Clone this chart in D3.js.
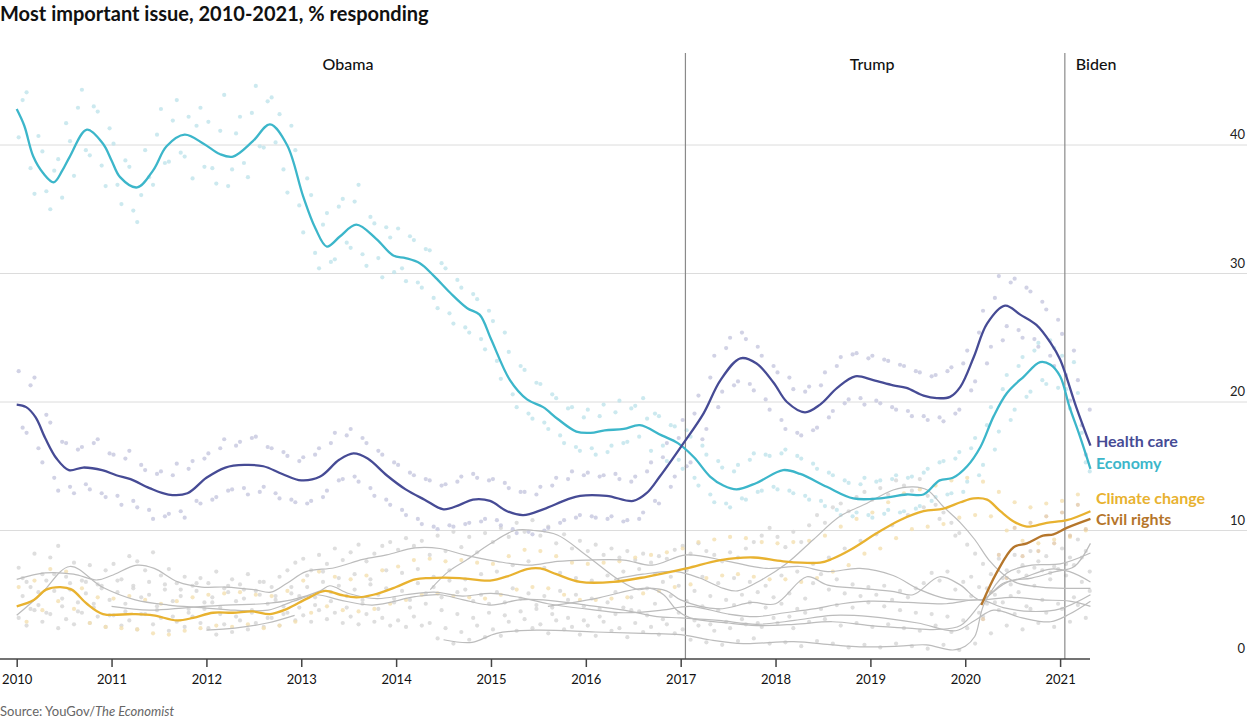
<!DOCTYPE html>
<html>
<head>
<meta charset="utf-8">
<title>Most important issue</title>
<script src="https://cdnjs.cloudflare.com/ajax/libs/d3/7.8.5/d3.min.js"></script>
<style>
  body { margin: 0; background: #fff; }
  text { font-family: Lato, "Noto Sans", sans-serif; }
</style>
</head>
<body>
<div id="chart"></div>
<script>
// smoothed series, [decimal year, % responding]
var economy = [[2010.0,42.8],[2010.08,41.5],[2010.175,39.1],[2010.28,37.8],[2010.39,37.1],[2010.48,38.0],[2010.56,39.1],[2010.74,41.2],[2010.91,40.1],[2011.0,38.8],[2011.09,37.5],[2011.27,36.7],[2011.44,38.05],[2011.58,39.9],[2011.77,40.8],[2011.97,40.1],[2012.14,39.3],[2012.28,39.1],[2012.49,40.3],[2012.67,41.6],[2012.85,40.0],[2013.02,36.0],[2013.15,33.5],[2013.27,32.1],[2013.41,32.9],[2013.58,33.8],[2013.79,32.7],[2013.97,31.4],[2014.1,31.2],[2014.25,30.8],[2014.4,29.8],[2014.57,28.5],[2014.75,27.3],[2014.88,26.8],[2015.0,24.9],[2015.2,21.7],[2015.38,20.2],[2015.55,19.6],[2015.7,18.7],[2015.9,17.7],[2016.05,17.6],[2016.2,17.8],[2016.4,17.9],[2016.57,18.2],[2016.8,17.4],[2016.97,16.8],[2017.14,15.7],[2017.31,14.2],[2017.45,13.5],[2017.59,13.2],[2017.8,13.7],[2018.08,14.7],[2018.26,14.4],[2018.54,13.4],[2018.82,12.5],[2019.1,12.5],[2019.38,12.8],[2019.56,12.8],[2019.73,13.9],[2019.87,14.1],[2020.02,15.0],[2020.16,16.5],[2020.3,18.9],[2020.44,20.7],[2020.62,22.0],[2020.79,23.1],[2020.9,22.9],[2021.0,22.0],[2021.1,19.6],[2021.21,17.3],[2021.32,14.8]];

var healthCare = [[2010.0,19.8],[2010.1,19.6],[2010.2,18.8],[2010.3,17.2],[2010.42,15.6],[2010.55,14.7],[2010.7,14.9],[2010.9,14.7],[2011.05,14.3],[2011.2,14.0],[2011.4,13.3],[2011.6,12.8],[2011.8,12.9],[2012.0,14.1],[2012.2,14.9],[2012.4,15.1],[2012.6,15.0],[2012.8,14.4],[2013.0,13.9],[2013.2,14.2],[2013.4,15.5],[2013.55,16.0],[2013.7,15.6],[2013.9,14.3],[2014.1,13.2],[2014.3,12.4],[2014.5,11.65],[2014.67,12.0],[2014.81,12.4],[2014.99,12.3],[2015.17,11.5],[2015.34,11.2],[2015.55,11.65],[2015.8,12.4],[2015.94,12.7],[2016.22,12.7],[2016.5,12.3],[2016.64,12.9],[2016.78,14.2],[2017.03,16.8],[2017.24,19.1],[2017.42,21.7],[2017.63,23.4],[2017.8,23.0],[2017.98,21.5],[2018.12,20.0],[2018.31,19.2],[2018.47,19.8],[2018.65,21.1],[2018.84,22.0],[2019.03,21.7],[2019.24,21.3],[2019.38,21.1],[2019.56,20.5],[2019.7,20.3],[2019.84,20.4],[2019.95,21.2],[2020.09,23.5],[2020.23,26.1],[2020.42,27.5],[2020.58,26.8],[2020.75,26.0],[2020.9,24.6],[2021.0,23.3],[2021.17,19.6],[2021.32,16.6]];

var climateChange = [[2010.0,4.1],[2010.18,4.6],[2010.31,5.4],[2010.46,5.6],[2010.58,5.4],[2010.74,4.3],[2010.91,3.5],[2011.23,3.5],[2011.44,3.4],[2011.69,3.0],[2011.86,3.2],[2012.07,3.6],[2012.28,3.6],[2012.49,3.7],[2012.67,3.5],[2012.85,3.9],[2013.06,4.7],[2013.25,5.3],[2013.41,5.0],[2013.58,4.8],[2013.76,5.0],[2014.0,5.6],[2014.2,6.2],[2014.35,6.3],[2014.67,6.3],[2014.99,6.1],[2015.2,6.5],[2015.38,7.0],[2015.52,7.05],[2015.69,6.6],[2015.94,6.0],[2016.29,6.0],[2016.64,6.4],[2017.06,7.05],[2017.42,7.7],[2017.77,7.9],[2018.08,7.6],[2018.47,7.5],[2018.6,7.8],[2018.79,8.5],[2019.07,9.8],[2019.31,10.8],[2019.56,11.5],[2019.77,11.7],[2019.95,12.2],[2020.09,12.5],[2020.23,12.4],[2020.37,11.5],[2020.51,10.7],[2020.65,10.3],[2020.86,10.6],[2021.07,10.8],[2021.32,11.5]];

var civilRights = [[2020.17,4.2],[2020.33,6.7],[2020.51,8.7],[2020.65,9.0],[2020.82,9.6],[2020.93,9.7],[2021.07,10.2],[2021.32,10.9]];

// the other issues, drawn in grey
var otherIssues = [
  [[2010.0,6.2],[2010.3,6.7],[2010.6,6.6],[2010.85,6.15],[2011.0,6.5],[2011.27,7.3],[2011.45,7.05],[2011.7,6.0],[2011.95,5.6],[2012.2,5.6],[2012.5,5.4],[2012.68,5.2],[2012.85,5.9],[2013.05,6.8],[2013.35,7.1],[2013.65,7.75],[2013.9,8.1],[2014.2,8.65],[2014.46,8.6],[2014.72,8.1],[2015.06,7.6],[2015.4,7.3],[2015.7,7.6],[2016.0,7.7],[2016.4,7.7],[2016.7,7.3],[2017.06,8.1],[2017.5,7.6],[2017.9,7.05],[2018.26,7.2],[2018.55,6.8],[2018.89,7.05],[2019.24,6.5],[2019.52,5.4],[2019.8,4.7],[2020.16,4.6],[2020.5,4.8],[2020.8,4.6],[2021.1,4.5],[2021.32,4.1]],
  [[2010.0,3.4],[2010.25,5.0],[2010.56,7.2],[2010.9,5.6],[2011.25,4.6],[2011.6,4.2],[2011.95,4.0],[2012.3,3.8],[2012.65,3.8],[2012.92,4.5],[2013.16,5.0],[2013.4,4.6],[2013.75,4.2],[2014.2,4.85],[2014.46,5.0],[2014.71,4.6],[2015.0,4.2],[2015.3,4.6],[2015.55,4.6],[2016.0,4.2],[2016.4,3.8],[2016.75,3.3],[2017.0,3.2],[2017.4,3.0],[2017.8,2.7],[2018.2,3.0],[2018.6,3.4],[2019.0,3.3],[2019.5,2.8],[2019.9,2.2],[2020.1,3.0],[2020.3,3.8],[2020.6,3.2],[2020.9,2.9],[2021.1,3.5],[2021.32,4.5]],
  [[2011.0,4.1],[2011.4,3.8],[2011.8,4.0],[2012.2,4.2],[2012.6,4.3],[2012.9,4.6],[2013.2,5.3],[2013.3,5.7],[2013.5,5.1],[2013.8,4.7],[2014.1,5.0],[2014.4,5.2],[2014.7,4.9],[2015.0,5.1],[2015.3,4.8],[2015.6,4.3],[2016.0,3.9],[2016.4,3.6],[2016.8,3.8],[2017.1,4.1],[2017.5,3.5],[2017.8,3.3],[2018.1,3.6],[2018.4,3.9],[2018.7,4.3],[2019.0,4.5],[2019.4,4.4],[2019.8,4.3],[2020.16,4.6],[2020.4,4.0],[2020.7,3.7],[2021.0,3.9],[2021.32,5.0]],
  [[2012.0,2.25],[2012.3,2.4],[2012.64,2.8],[2012.93,3.4]],
  [[2014.36,5.4],[2014.55,6.8],[2014.75,7.75],[2015.0,9.0],[2015.25,10.0],[2015.45,10.0],[2015.7,9.65],[2016.0,8.1],[2016.35,6.15],[2016.55,5.4],[2016.68,5.5],[2016.82,5.0],[2016.96,3.8],[2017.1,3.2],[2017.5,2.8],[2017.8,2.6],[2018.2,2.7],[2018.6,2.9],[2019.0,2.6],[2019.4,2.4],[2019.7,2.3],[2019.95,2.6],[2020.2,4.6],[2020.45,6.0],[2020.7,6.3],[2020.95,6.8],[2021.15,7.2],[2021.32,9.0]],
  [[2014.5,1.5],[2014.8,1.3],[2015.06,2.0],[2015.48,2.25],[2016.1,2.1],[2016.6,2.0],[2017.0,1.9],[2017.3,1.5],[2017.66,1.2],[2018.19,1.35],[2018.6,1.1],[2018.89,0.95],[2019.3,1.0],[2019.59,1.1],[2019.87,0.7],[2020.0,1.0],[2020.1,1.75],[2020.2,4.3],[2020.44,6.7],[2020.7,7.3],[2021.0,7.4],[2021.32,8.25]],
  [[2016.3,6.2],[2016.6,6.6],[2016.95,6.8],[2017.2,6.3],[2017.45,5.5],[2017.6,5.3],[2017.85,6.15],[2018.12,7.45],[2018.4,9.3],[2018.68,11.1],[2018.96,12.1],[2019.24,13.15],[2019.45,13.4],[2019.6,13.15],[2019.77,11.85],[2019.95,10.6],[2020.1,9.3],[2020.25,7.7],[2020.4,6.6],[2020.55,5.9],[2020.8,5.6],[2021.05,5.5],[2021.32,5.5]],
  [[2015.6,4.1],[2016.1,4.7],[2016.6,5.5],[2016.85,5.3],[2017.0,4.6],[2017.4,3.9],[2017.75,4.4],[2018.0,4.3],[2018.33,6.4],[2018.55,5.75],[2018.9,5.5],[2019.25,5.25],[2019.45,5.0],[2019.73,6.4],[2019.95,5.75],[2020.16,4.6],[2020.4,5.9],[2020.6,6.3],[2020.9,7.0],[2021.1,6.8],[2021.32,6.0]]
];

// individual poll readings, one per month from Jan 2010
var economyPolls = [40.6,44.1,36.2,39.5,35.0,38.9,41.7,37.6,44.3,39.2,42.6,36.8, 40.1,35.4,38.3,34.0,39.6,36.9,42.8,38.7,43.5,39.1,37.4,42.9, 41.8,37.0,43.9,38.1,42.2,37.5,44.6,39.8,43.7,42.4,36.3,39.6, 33.2,36.1,30.4,34.7,31.1,35.8,32.0,36.9,30.6,33.9,29.7,32.8, 33.5,29.4,32.6,28.9,31.8,27.3,30.4,26.1,28.9,25.4,28.0,24.1, 26.3,21.8,23.9,19.6,22.5,18.7,21.4,17.9,20.3,16.8,19.6,16.2, 19.4,15.9,19.8,16.6,20.1,16.9,19.7,20.3,16.2,18.9,15.4,18.1, 14.8,17.3,13.5,15.9,12.2,14.9,11.8,15.1,12.4,16.0,13.1,15.8, 13.2,16.3,12.9,15.6,12.4,14.8,11.9,14.3,11.2,13.7,11.4,14.1, 11.0,13.9,11.6,14.3,11.5,14.2,11.9,14.8,12.6,15.4,12.9,16.1, 13.8,17.2,15.1,19.6,17.7,22.1,19.4,23.5,20.8,24.6,21.4,24.2, 23.6,19.5,20.7,15.3];
var economyPolls2 = [43.5,38.2,40.7,36.4,38.0,35.9,40.3,42.9,39.6,43.0,38.4,41.3, 36.9,38.8,34.9,36.1,37.5,40.8,38.6,41.9,39.4,42.2,41.5,38.3, 38.2,41.1,36.8,40.9,38.6,42.5,39.9,43.4,40.2,38.1,41.5,35.3, 37.4,31.6,33.8,30.9,35.2,32.4,35.6,31.5,34.4,31.2,33.6,30.1, 30.4,32.9,29.3,31.9,28.1,30.8,26.9,29.5,25.8,28.4,24.9,27.1, 23.2,25.4,20.6,22.8,19.1,21.5,18.4,20.6,17.4,19.5,16.5,18.8, 16.4,18.9,16.1,19.2,16.8,19.5,17.3,18.7,19.1,16.6,18.2,15.5, 17.8,14.1,16.6,12.8,15.4,12.1,14.6,12.5,15.5,13.0,15.9,13.4, 16.0,13.1,15.8,12.7,15.2,12.3,14.5,11.6,13.9,11.1,13.6,11.2, 13.8,11.3,14.0,11.4,14.1,11.7,14.5,12.3,15.3,12.8,15.6,13.0, 16.4,14.3,18.2,16.3,21.0,18.6,22.8,20.4,24.0,21.7,24.8,21.1, 21.0,23.1,17.6,14.6];
var healthPolls = [22.4,17.6,21.9,15.3,18.4,13.1,16.8,12.9,16.5,13.2,17.1,12.6, 15.9,12.0,16.2,11.8,14.7,10.9,14.6,11.3,15.2,11.0,15.4,12.1, 16.0,12.6,17.1,13.2,16.9,12.8,17.3,13.4,16.4,12.5,15.8,12.2, 15.7,12.3,16.4,13.1,17.6,14.0,17.9,13.8,16.8,12.7,15.9,12.0, 15.1,11.2,14.3,10.5,13.9,10.1,13.6,10.3,14.2,10.6,14.1,10.9, 14.0,10.4,13.3,9.8,13.0,9.7,13.4,10.2,14.1,10.8,14.6,11.2, 14.5,11.0,14.3,11.1,14.0,10.8,14.2,11.4,15.3,12.1,16.8,14.2, 18.6,15.3,20.5,17.9,23.6,20.8,25.0,21.6,24.9,20.9,23.6,19.4, 22.3,17.9,21.0,17.4,21.2,18.0,22.3,19.3,23.5,20.2,23.8,19.8, 23.6,19.9,23.2,19.4,22.8,18.9,22.3,18.6,22.1,18.5,22.7,19.4, 24.0,21.6,27.1,24.3,29.8,25.9,29.6,25.0,28.6,24.3,27.2,22.8, 25.3,20.1,21.7,15.9];
var healthPolls2 = [18.0,21.3,16.4,19.0,14.1,16.9,13.4,16.3,13.6,16.8,12.9,16.0, 12.7,15.6,12.3,15.1,11.6,14.4,11.1,14.3,11.5,14.8,12.3,15.6, 12.4,16.4,13.1,16.6,13.3,17.2,13.0,16.5,12.9,16.1,12.4,15.4, 12.1,15.9,12.6,16.8,13.9,17.4,14.2,17.2,13.3,16.2,12.4,15.3, 11.6,14.5,10.9,14.0,10.3,13.5,10.4,13.8,10.5,14.4,10.7,13.9, 10.8,13.7,10.1,13.0,9.9,12.8,10.0,13.5,10.6,14.0,11.0,14.3, 11.1,14.2,10.9,14.4,10.7,13.8,10.9,14.6,12.3,15.7,13.4,17.2, 15.0,19.1,17.1,21.9,19.6,24.2,21.3,25.4,21.4,24.3,20.2,22.8, 18.6,21.9,17.6,20.8,17.8,21.3,18.8,22.8,19.9,23.7,20.3,23.4, 20.1,23.3,19.6,22.9,19.3,22.4,18.9,22.0,18.8,22.4,19.1,23.0, 20.9,25.4,23.0,28.1,24.8,29.3,25.6,28.9,24.9,27.8,23.6,26.4, 22.1,24.0,18.2,19.4];
var climatePolls = [5.6,2.9,6.1,3.8,7.0,4.5,6.8,3.9,5.5,2.8,4.8,2.5, 4.7,2.4,4.9,2.3,4.6,2.0,4.3,1.9,4.5,2.2,4.8,2.4, 5.0,2.6,5.1,2.5,5.2,2.7,5.0,2.4,4.9,2.6,5.3,2.9, 6.1,3.6,6.8,4.1,6.4,3.8,6.2,3.7,6.5,3.9,6.9,4.3, 7.2,4.6,7.7,5.0,7.8,5.1,7.6,4.9,7.7,4.8,7.5,4.7, 7.4,5.0,8.0,5.4,8.5,5.6,8.4,5.5,8.0,5.0,7.5,4.6, 7.4,4.6,7.5,4.7,7.6,4.8,7.9,5.1,8.1,5.3,8.3,5.6, 8.6,5.8,9.1,6.3,9.3,6.5,9.5,6.6,9.4,6.4,9.1,6.2, 9.0,6.2,9.1,6.0,9.2,6.3,9.6,6.8,10.3,7.3,10.9,8.2, 11.4,8.6,12.2,9.4,12.9,10.1,13.2,10.3,13.5,10.5,13.9,11.0, 14.1,11.2,13.8,11.1,13.0,10.0,12.2,9.2,11.8,9.0,12.1,9.3, 12.3,9.5,12.8,10.0];
// civil rights readings start in March 2020
var civilPollsStart = 2020 + 2 / 12;
var civilPolls = [3.1,5.2,8.1,6.3,10.2,8.0,10.6,8.4,11.1,9.0,11.4,9.6,12.0,10.1];
var otherPolls = [
  [7.1,6.0,8.2,6.6,7.9,8.8,6.4,7.5,6.1,7.3,5.8,6.9, 7.4,6.2,8.0,7.6,6.9,8.3,6.5,7.0,5.9,6.4,5.7,6.3, 5.9,6.8,5.5,6.2,5.8,6.6,5.3,6.0,5.6,6.4,6.9,7.5, 7.8,6.9,8.1,7.4,8.6,7.7,8.3,8.9,7.6,8.2,8.8,9.1, 8.5,9.4,8.8,9.2,8.1,9.6,8.4,9.9,8.7,9.5,8.3,9.8, 9.1,10.2,9.5,10.6,9.9,10.8,9.6,10.3,9.0,9.7,8.6,9.2, 8.4,8.9,8.1,8.6,7.9,8.4,7.7,8.2,7.5,8.0,7.8,8.5, 8.8,8.2,9.0,8.4,8.1,7.6,8.3,7.9,8.6,9.1,9.6,10.2, 9.5,8.7,9.9,9.1,10.4,11.2,10.6,11.8,12.1,11.5,12.6,13.0, 12.4,13.3,12.8,13.9,13.5,13.1,14.0,12.7,12.0,11.4,10.6,9.8, 8.9,8.2,7.4,6.6,7.8,6.9,8.1,7.3,8.4,7.6,8.0,7.2, 8.6,7.9,9.3,8.4],
  [4.9,5.6,4.2,6.1,5.3,4.7,5.9,4.4,5.1,4.0,5.5,4.6, 5.2,4.3,5.7,4.8,5.0,4.1,5.4,4.5,4.9,3.9,5.3,4.4, 4.8,4.0,5.2,4.5,4.7,3.8,5.0,4.3,4.6,4.1,5.1,4.9, 5.6,4.8,6.0,5.2,5.7,4.9,5.4,4.6,5.8,5.0,5.5,4.7, 5.3,4.6,5.9,5.1,5.6,4.8,6.1,5.2,5.4,4.5,5.0,4.3, 5.2,4.4,5.5,4.7,5.1,4.2,4.9,4.0,5.3,4.6,5.0,4.1, 4.7,3.9,4.4,5.2,4.0,4.8,3.7,5.5,4.3,6.0,4.9,5.7, 4.5,5.3,4.1,4.9,3.8,4.6,4.2,5.0,4.4,5.2,4.0,4.8, 4.3,5.1,3.9,4.7,5.9,6.6,5.4,6.2,5.1,5.8,4.9,5.6, 5.0,5.7,4.6,5.3,4.8,5.5,5.9,6.7,6.1,6.8,5.4,6.0, 4.9,5.6,4.3,5.0,4.4,5.8,5.2,6.5,5.7,6.9,6.2,7.0, 6.5,7.3,6.0,6.8],
  [3.2,2.6,3.8,2.9,3.5,2.4,3.1,2.7,3.6,2.8,3.3,2.5, 3.4,2.6,3.0,2.3,3.5,2.7,3.2,2.2,2.9,2.5,3.3,2.8, 2.4,1.9,2.7,2.1,3.0,2.3,2.8,2.5,3.2,2.6,3.6,3.0, 3.4,2.9,3.8,3.1,3.6,2.8,3.3,2.7,3.5,2.9,3.2,2.6, 3.0,2.5,3.3,2.6,2.8,1.6,2.4,1.2,2.1,1.5,2.6,1.7, 2.3,1.8,2.9,2.2,3.1,2.4,2.7,2.0,3.0,2.3,2.5,1.9, 2.6,1.8,2.9,2.2,2.4,1.7,2.8,2.1,2.5,1.9,2.7,2.0, 2.3,1.5,2.6,1.3,2.2,1.1,2.4,1.4,2.7,1.6,2.5,1.2, 2.8,1.3,2.4,1.0,2.9,1.4,3.1,1.2,2.6,0.9,2.8,1.1, 2.5,0.9,2.7,1.2,2.4,1.0,2.2,0.8,2.6,1.1,2.1,0.7, 2.4,1.2,3.3,2.0,3.8,2.6,3.5,2.3,3.9,2.8,3.6,2.5, 3.9,2.9,4.2,3.2],
  [6.3,3.9,5.2,3.6,6.6,4.1,5.4,3.7,6.0,4.3,5.7,3.4, 6.1,3.7,5.5,3.5,6.0,3.8,5.8,3.3,5.4,3.6,5.9,3.9, 4.4,3.5,5.7,3.3,5.4,3.6,6.0,3.2,4.9,3.5,5.6,4.0, 6.5,4.2,6.8,4.5,6.3,4.0,6.6,4.3,6.2,3.9,6.9,4.4, 6.7,4.0,7.0,4.3,6.4,3.8,6.9,3.5,6.2,3.2,6.6,3.6, 6.8,3.4,7.3,3.7,7.6,3.9,7.1,3.5,6.7,3.2,6.3,3.0, 6.1,3.3,6.5,3.5,6.8,3.8,7.0,3.4,6.6,3.1,6.4,3.6, 6.9,3.0,6.4,2.7,5.9,2.9,6.3,3.1,6.0,2.8,5.7,3.2, 6.5,3.3,6.8,3.6,7.4,3.9,7.9,4.2,8.6,4.0,9.2,4.4, 9.7,4.1,10.4,3.8,11.2,3.6,11.8,3.5,10.9,3.3,9.6,3.0, 6.4,3.6,5.5,4.4,6.3,4.9,6.8,4.1,7.1,4.6,6.7,4.3, 7.4,4.8,7.9,5.3]
];

var years = d3.range(2010, 2022);
var yTicks = [0, 10, 20, 30, 40];
var presidents = [
  {name: "Obama", start: 2010.0, end: 2017.05},
  {name: "Trump", start: 2017.05, end: 2021.05},
  {name: "Biden", start: 2021.05, end: null}
];
var labels = [
  {name: "Health care", color: "#464b95", dot: "#c6c7df", data: healthCare, polls: [healthPolls, healthPolls2], start: 2010, dy: 1},
  {name: "Economy", color: "#3cb6ca", dot: "#bfe4eb", data: economy, polls: [economyPolls, economyPolls2], start: 2010, dy: 0},
  {name: "Climate change", color: "#e8b230", dot: "#f4e0b0", data: climateChange, polls: [climatePolls], start: 2010, dy: -7},
  {name: "Civil rights", color: "#b5762b", dot: "#e2c9aa", data: civilRights, polls: [civilPolls], start: civilPollsStart, dy: 6}
];

var width = 1247, height = 720;
var svg = d3.select("#chart").append("svg")
  .attr("width", width)
  .attr("height", height);

var x = d3.scaleLinear().domain([2010, 2021]).range([16.7, 1060.1]);
var y = d3.scaleLinear().domain([0, 40]).range([659, 145]);

var line = d3.line()
  .x(function(d) { return x(d[0]); })
  .y(function(d) { return y(d[1]); })
  .curve(d3.curveCatmullRom.alpha(0.5));

// turn a monthly list into [year, value] points; k shifts the second list half a month
function monthly(values, start, k) {
  return values.map(function(v, i) { return [start + (i + 0.25 + 0.5 * k) / 12, v]; });
}

function drawDots(g, values, start, k, color) {
  g.append("g").selectAll("circle").data(monthly(values, start, k))
    .enter().append("circle")
    .attr("cx", function(d) { return x(d[0]); })
    .attr("cy", function(d) { return y(d[1]); })
    .attr("r", 2.1)
    .attr("fill", color).attr("fill-opacity", 0.8);
}

// title
svg.append("text")
  .attr("x", 0).attr("y", 21)
  .style("font-size", "20px").style("font-weight", 700)
  .attr("fill", "#111")
  .text("Most important issue, 2010-2021, % responding");

// gridlines + y labels on the right
var grid = svg.append("g");
grid.selectAll("line").data(yTicks.filter(function(d) { return d > 0; }))
  .enter().append("line")
  .attr("x1", 0).attr("x2", width)
  .attr("y1", function(d) { return y(d); })
  .attr("y2", function(d) { return y(d); })
  .attr("stroke", "#dcdcdc").attr("stroke-width", 1);
grid.selectAll("text").data(yTicks)
  .enter().append("text")
  .attr("x", 1245)
  .attr("y", function(d) { return y(d) - 6; })
  .attr("text-anchor", "end")
  .style("font-size", "13px")
  .attr("fill", "#222")
  .text(function(d) { return d; });

// poll dots, behind everything else
var dots = svg.append("g");
otherPolls.forEach(function(vals, i) {
  drawDots(dots, vals, 2010, i % 2, "#d6d6d6");
});
labels.forEach(function(s) {
  s.polls.forEach(function(vals, i) {
    drawDots(dots, vals, s.start, i, s.dot);
  });
});

// presidency dividers
var pres = svg.append("g");
pres.selectAll("line").data(presidents.slice(1))
  .enter().append("line")
  .attr("x1", function(d) { return x(d.start); })
  .attr("x2", function(d) { return x(d.start); })
  .attr("y1", 53).attr("y2", 659)
  .attr("stroke", "#8a8a8a").attr("stroke-width", 1.2);
pres.selectAll("text").data(presidents)
  .enter().append("text")
  .attr("x", function(d) { return d.end ? (x(d.start) + x(d.end)) / 2 - 3 : x(d.start) + 11; })
  .attr("y", 70)
  .attr("text-anchor", function(d) { return d.end ? "middle" : "start"; })
  .style("font-size", "16px").style("font-weight", 500)
  .attr("fill", "#111")
  .text(function(d) { return d.name; });

// grey lines for other issues
svg.append("g").selectAll("path").data(otherIssues)
  .enter().append("path")
  .attr("d", line)
  .attr("fill", "none")
  .attr("stroke", "#bcbcbc")
  .attr("stroke-width", 1.2);

// highlighted issues
svg.append("g").selectAll("path").data(labels.slice().reverse())
  .enter().append("path")
  .attr("d", function(d) { return line(d.data); })
  .attr("fill", "none")
  .attr("stroke", function(d) { return d.color; })
  .attr("stroke-width", 2.3);

svg.append("g").selectAll("text").data(labels)
  .enter().append("text")
  .attr("x", 1096)
  .attr("y", function(d) { var last = d.data[d.data.length - 1]; return y(last[1]) + d.dy; })
  .style("font-size", "16px").style("font-weight", 700)
  .attr("fill", function(d) { return d.color; })
  .text(function(d) { return d.name; });

// x axis
var xAxis = d3.axisBottom(x).tickValues(years).tickFormat(d3.format("d")).tickSize(8).tickPadding(8);
var gx = svg.append("g").attr("transform", "translate(0,659)").call(xAxis);
gx.select(".domain").remove();
gx.append("line").attr("x1", 0).attr("x2", 1090).attr("stroke", "#444").attr("stroke-width", 1.5);
gx.selectAll(".tick line").attr("stroke", "#444").attr("stroke-width", 1.5);
gx.selectAll(".tick text").style("font-family", "Lato, 'Noto Sans', sans-serif").style("font-size", "13px").attr("fill", "#111");

// source
var src = svg.append("text").attr("x", 0).attr("y", 716)
  .style("font-size", "13px").attr("fill", "#666");
src.append("tspan").text("Source: YouGov/");
src.append("tspan").style("font-style", "italic").text("The Economist");
</script>
</body>
</html>
